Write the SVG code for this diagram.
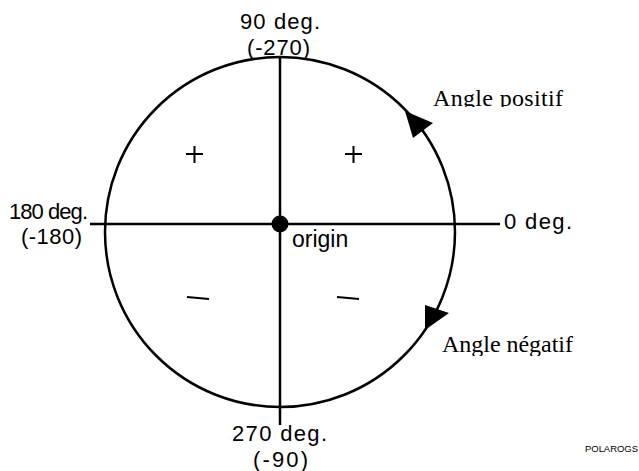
<svg xmlns="http://www.w3.org/2000/svg" width="639" height="471" viewBox="0 0 639 471">
<style>
.s{font-family:"Liberation Sans",Arial,sans-serif;font-size:23px;fill:#000}
.t{font-family:"Liberation Sans",Arial,sans-serif;font-size:22px;fill:#000}
.r{font-family:"Liberation Serif","Times New Roman",serif;font-size:24px;fill:#000}
.ln{stroke:#000;stroke-width:2.5;fill:none}
</style>
<defs>
<clipPath id="c1"><rect x="420" y="70" width="200" height="37"/></clipPath>
<clipPath id="c2"><rect x="420" y="320" width="200" height="36"/></clipPath>
</defs>
<rect width="639" height="471" fill="#fff"/>
<g id="circle"><circle cx="280" cy="232" r="175" class="ln" stroke-width="2"/></g>
<g id="connectors">
<line x1="280" y1="58" x2="280" y2="425" class="ln"/>
<line x1="90" y1="224" x2="500" y2="224" class="ln"/>
<polygon points="405,111 433,123 413,138" fill="#000"/>
<polygon points="425,305 449,313 425,330" fill="#000"/>
</g>
<g id="origin"><circle cx="280" cy="224" r="8.5" fill="#000"/>
<text class="s" x="292" y="247">origin</text></g>
<g id="signs" stroke="#000" stroke-width="2">
<line x1="186" y1="154" x2="203" y2="154"/><line x1="194.5" y1="146" x2="194.5" y2="163"/>
<line x1="345" y1="154" x2="362" y2="154"/><line x1="353.5" y1="146" x2="353.5" y2="163"/>
<line x1="187" y1="297" x2="209" y2="299"/>
<line x1="337" y1="297" x2="359" y2="299"/>
</g>
<g id="labels">
<text class="t" x="240" y="29" textLength="80">90 deg.</text>
<text class="t" x="247" y="55" textLength="63">(-270)</text>
<text class="t" x="9" y="219" textLength="79">180 deg.</text>
<text class="t" x="21" y="244" textLength="61">(-180)</text>
<text class="t" x="504" y="229" textLength="68">0 deg.</text>
<text class="t" x="232" y="441" textLength="95">270 deg.</text>
<text class="t" x="253" y="467" textLength="55">(-90)</text>
<text class="r" x="433" y="106" textLength="130" clip-path="url(#c1)">Angle positif</text>
<text class="r" x="442" y="352" textLength="131" clip-path="url(#c2)">Angle négatif</text>
<text x="585" y="452" font-family="Liberation Sans,Arial,sans-serif" font-size="9.5" textLength="53">POLAROGS</text>
</g>
</svg>
